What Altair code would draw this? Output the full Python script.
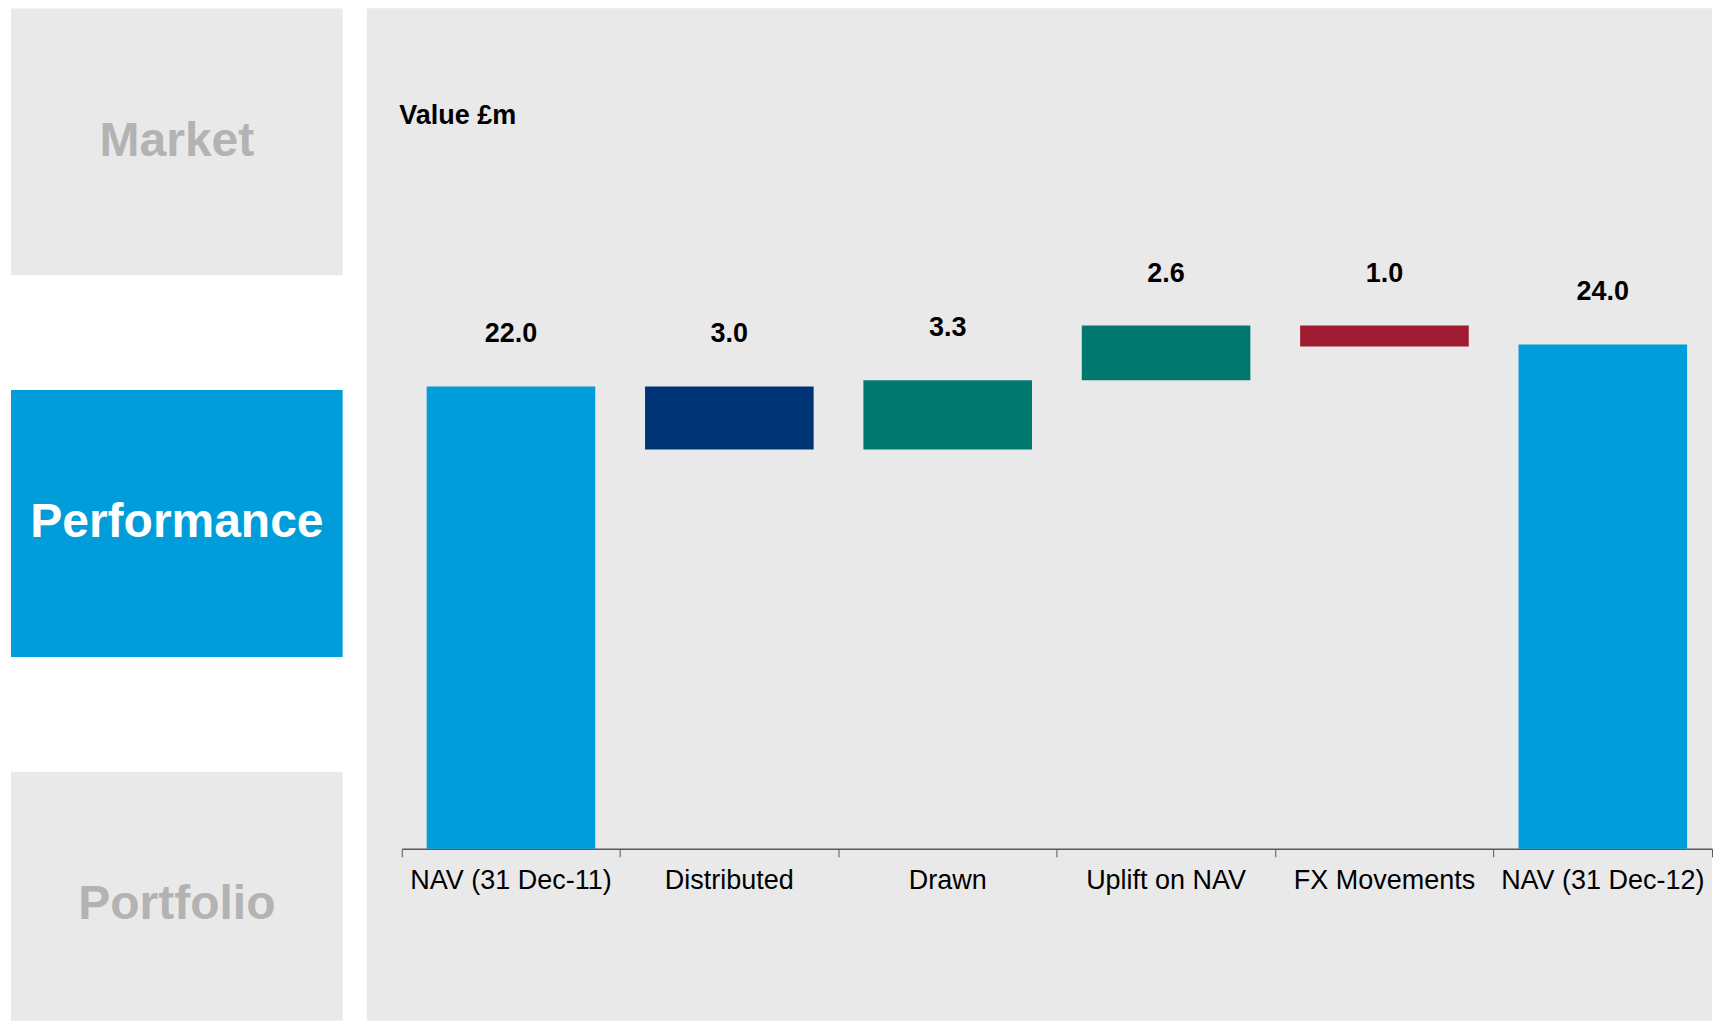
import altair as alt
import pandas as pd

# ---- data ----
categories = ["NAV (31 Dec-11)", "Distributed", "Drawn", "Uplift on NAV", "FX Movements", "NAV (31 Dec-12)"]
amounts = [22.0, -3.0, 3.3, 2.6, -1.0, 24.0]
kinds = ["total", "change", "change", "change", "change", "total"]
sections = ["Market", "Performance", "Portfolio"]
active_section = "Performance"

# ---- styles ----
bar_colors = ["#009DDA", "#003375", "#01786F", "#01786F", "#9E1B32", "#009DDA"]
FONT = "Liberation Sans"
PANEL = "#E9E9E9"
ACTIVE = "#009DDA"
MUTED_TEXT = "#B3B3B3"
AXIS_GREY = "#595959"

# ---- waterfall table ----
rows = []
running = 0.0
for cat, amt, kind in zip(categories, amounts, kinds):
    if kind == "total":
        start, end = 0.0, amt
        running = amt
    else:
        start, end = running, running + amt
        running = end
    rows.append(dict(category=cat, start=start, end=end, top=max(start, end),
                     label=f"{abs(amt):.1f}"))
df = pd.DataFrame(rows)

W_RIGHT = 1346
H = 1013

x_enc = alt.X(
    "category:N", sort=categories,
    scale=alt.Scale(range=[35, W_RIGHT], paddingInner=0, paddingOuter=0),
    axis=alt.Axis(title=None, labelAngle=0, labelFontSize=27, labelFont=FONT, labelColor="black",
                  labelPadding=11, labelLimit=0, labelOverlap=False,
                  tickSize=8, tickColor=AXIS_GREY, tickWidth=1,
                  domainColor=AXIS_GREY, domainWidth=1.5,
                  bandPosition=1, tickExtra=True, offset=-172, grid=False),
)
y_axis = alt.Axis(title="Value £m", titleAngle=0, titleAlign="left", titleBaseline="middle",
                  titleX=32, titleY=107, titleFontSize=27, titleFont=FONT, titleFontWeight="bold",
                  titleColor="black", labels=False, ticks=False, domain=False, grid=False, minExtent=0)
y_scale = alt.Scale(domain=[-8.19, 40.0], nice=False, zero=False)

bars = alt.Chart(df).mark_bar(width=alt.RelativeBandSize(0.772)).encode(
    x=x_enc,
    y=alt.Y("start:Q", scale=y_scale, axis=y_axis),
    y2="end:Q",
    color=alt.Color("category:N", scale=alt.Scale(domain=categories, range=bar_colors), legend=None),
)
labels = alt.Chart(df).mark_text(dy=-52, fontSize=27, fontWeight="bold", font=FONT,
                                 color="black", baseline="middle").encode(
    x=x_enc,
    y=alt.Y("top:Q", scale=y_scale, axis=y_axis),
    text="label:N",
)
right = alt.layer(bars, labels).properties(
    width=W_RIGHT, height=H,
    view=alt.ViewBackground(fill=PANEL, stroke="transparent", strokeWidth=0),
)

# ---- side navigation ----
left_df = pd.DataFrame({"section": sections})
is_active = alt.datum.section == active_section
left_y = alt.Y("section:N", sort=sections,
               scale=alt.Scale(range=[0, 1031], paddingInner=0.301, paddingOuter=0), axis=None)
boxes = alt.Chart(left_df).mark_rect(clip=True).encode(
    y=left_y,
    color=alt.condition(is_active, alt.value(ACTIVE), alt.value(PANEL)),
)
box_text = alt.Chart(left_df).mark_text(fontSize=48, fontWeight="bold", font=FONT,
                                        baseline="middle", align="center").encode(
    y=left_y,
    text="section:N",
    color=alt.condition(is_active, alt.value("white"), alt.value(MUTED_TEXT)),
)
left = alt.layer(boxes, box_text).properties(
    width=332, height=H,
    view=alt.ViewBackground(fill="white", stroke="transparent", strokeWidth=0),
)

chart = alt.hconcat(left, right, spacing=24).properties(
    padding={"left": 3, "top": 0, "right": 0, "bottom": 0}
).configure_view(strokeWidth=0, stroke="transparent").configure(font=FONT, background="white")

chart.save("out.html", embed_options={"renderer": "svg", "actions": False})
